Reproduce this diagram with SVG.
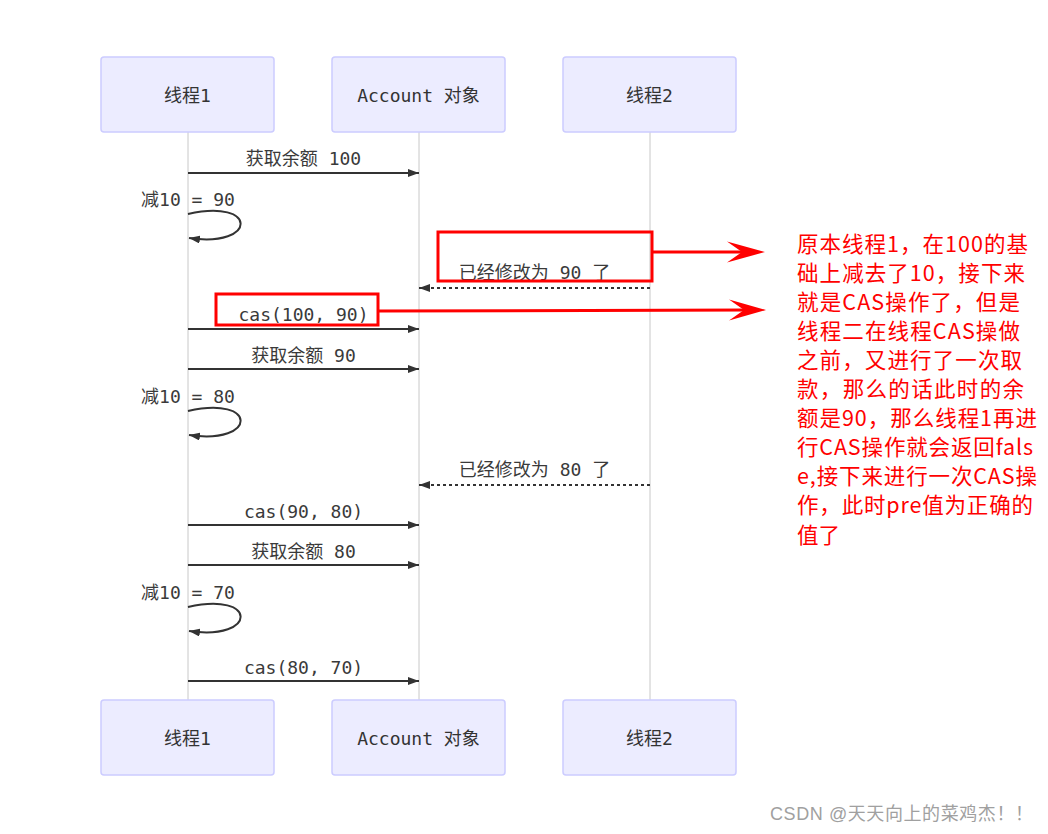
<svg xmlns="http://www.w3.org/2000/svg" width="1048" height="834" viewBox="0 0 1048 834">
<style>
.actor{fill:#ECECFF;stroke:#CCCCFF;stroke-width:1.5}
.atext{font-family:"DejaVu Sans Mono","Noto Sans CJK SC",monospace;font-size:18px;fill:#333;text-anchor:middle;dominant-baseline:central}
.life{stroke:#c8c8c8;stroke-width:1}
.msg{stroke:#333;stroke-width:2;fill:none}
.dash{stroke:#333;stroke-width:2;fill:none;stroke-dasharray:3,3}
.lbl{font-family:"DejaVu Sans Mono","Noto Sans CJK SC",monospace;font-size:18px;fill:#3a3a3a;text-anchor:middle;dominant-baseline:central}
.red{stroke:#ff0000;stroke-width:3;fill:none}
.note{font-family:"Noto Sans CJK SC",sans-serif;font-size:21.5px;fill:#ff0000;dominant-baseline:central}
.wm{font-family:"Liberation Sans","Noto Sans CJK SC",sans-serif;font-size:18px;fill:#a0a0a0;dominant-baseline:central}
</style>
<defs>
<marker id="ah" viewBox="0 0 11 8" refX="11" refY="4" markerWidth="11" markerHeight="8" markerUnits="userSpaceOnUse" orient="auto">
<path d="M0,0 L11,4 L0,8 z" fill="#333"/>
</marker>
</defs>
<rect width="1048" height="834" fill="#ffffff"/>

<g id="lifelines">
<line class="life" x1="188" y1="132" x2="188" y2="700"/>
<line class="life" x1="419" y1="132" x2="419" y2="700"/>
<line class="life" x1="650" y1="132" x2="650" y2="700"/>
</g>

<g id="actor-t1-top"><rect class="actor" x="101" y="57" width="173" height="75" rx="3"/><text class="atext" x="187.5" y="95">线程1</text></g>
<g id="actor-acc-top"><rect class="actor" x="332" y="57" width="173" height="75" rx="3"/><text class="atext" x="418.5" y="95">Account 对象</text></g>
<g id="actor-t2-top"><rect class="actor" x="563" y="57" width="173" height="75" rx="3"/><text class="atext" x="649.5" y="95">线程2</text></g>
<g id="actor-t1-bot"><rect class="actor" x="101" y="700" width="173" height="75" rx="3"/><text class="atext" x="187.5" y="738">线程1</text></g>
<g id="actor-acc-bot"><rect class="actor" x="332" y="700" width="173" height="75" rx="3"/><text class="atext" x="418.5" y="738">Account 对象</text></g>
<g id="actor-t2-bot"><rect class="actor" x="563" y="700" width="173" height="75" rx="3"/><text class="atext" x="649.5" y="738">线程2</text></g>

<g id="connectors">
<line class="msg" x1="188" y1="173" x2="419" y2="173" marker-end="url(#ah)"/>
<path class="msg" d="M188,214 C258,198 258,248 189,238" marker-end="url(#ah)"/>
<line class="dash" x1="650" y1="288" x2="419" y2="288" marker-end="url(#ah)"/>
<line class="msg" x1="188" y1="329" x2="419" y2="329" marker-end="url(#ah)"/>
<line class="msg" x1="188" y1="369" x2="419" y2="369" marker-end="url(#ah)"/>
<path class="msg" d="M188,411 C258,395 258,445 189,435" marker-end="url(#ah)"/>
<line class="dash" x1="650" y1="485" x2="419" y2="485" marker-end="url(#ah)"/>
<line class="msg" x1="188" y1="525" x2="419" y2="525" marker-end="url(#ah)"/>
<line class="msg" x1="188" y1="565" x2="419" y2="565" marker-end="url(#ah)"/>
<path class="msg" d="M188,607 C258,591 258,641 189,631" marker-end="url(#ah)"/>
<line class="msg" x1="188" y1="681" x2="419" y2="681" marker-end="url(#ah)"/>
</g>

<g id="labels">
<text class="lbl" x="303.5" y="158">获取余额 100</text>
<text class="lbl" x="188" y="199">减10 = 90</text>
<text class="lbl" x="534.5" y="272">已经修改为 90 了</text>
<text class="lbl" x="303.5" y="314">cas(100, 90)</text>
<text class="lbl" x="303.5" y="355">获取余额 90</text>
<text class="lbl" x="188" y="396">减10 = 80</text>
<text class="lbl" x="534.5" y="469">已经修改为 80 了</text>
<text class="lbl" x="303.5" y="511">cas(90, 80)</text>
<text class="lbl" x="303.5" y="551">获取余额 80</text>
<text class="lbl" x="188" y="592">减10 = 70</text>
<text class="lbl" x="303.5" y="667">cas(80, 70)</text>
</g>

<g id="annotation">
<rect class="red" x="438" y="232" width="214" height="49"/>
<line class="red" x1="652" y1="252" x2="745" y2="252"/>
<polygon points="727,241.5 765,252 727,262.5 742,252" fill="#ff0000"/>
<rect class="red" x="216" y="294" width="162" height="31"/>
<line class="red" x1="378" y1="311" x2="747" y2="310"/>
<polygon points="729,299.5 766,310 729,320.5 744,310" fill="#ff0000"/>
<text class="note" x="797" y="242" textLength="231">原本线程1，在100的基</text>
<text class="note" x="797" y="271.1" textLength="228">础上减去了10，接下来</text>
<text class="note" x="797" y="300.2" textLength="223">就是CAS操作了，但是</text>
<text class="note" x="797" y="329.3" textLength="223">线程二在线程CAS操做</text>
<text class="note" x="797" y="358.4" textLength="225">之前，又进行了一次取</text>
<text class="note" x="797" y="387.5" textLength="227">款，那么的话此时的余</text>
<text class="note" x="797" y="416.6" textLength="240">额是90，那么线程1再进</text>
<text class="note" x="797" y="445.7" textLength="236">行CAS操作就会返回fals</text>
<text class="note" x="797" y="474.8" textLength="240">e,接下来进行一次CAS操</text>
<text class="note" x="797" y="503.9" textLength="236">作，此时pre值为正确的</text>
<text class="note" x="797" y="533">值了</text>
</g>

<text class="wm" x="770" y="814" textLength="263">CSDN @天天向上的菜鸡杰！！</text>
</svg>
